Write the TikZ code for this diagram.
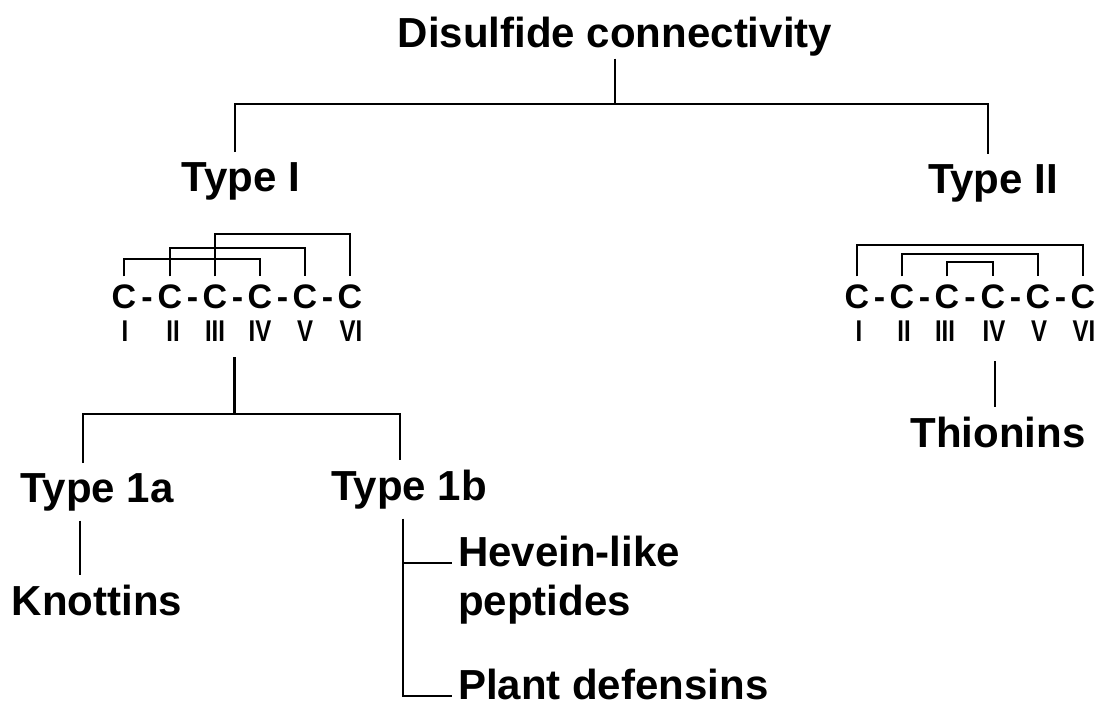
\documentclass[tikz,border=0pt]{standalone}
\usepackage{fontspec}
\setmainfont{Liberation Sans}
\newfontfamily\narrowsans[FakeStretch=0.8]{Liberation Sans}
\usetikzlibrary{calc}

\begin{document}
\begin{tikzpicture}[x=1pt,y=-1pt,
  lbl/.style={font=\fontsize{42}{46}\selectfont\bfseries,inner sep=0pt,outer sep=10pt,anchor=base},
  cys/.style={font=\fontsize{34}{40}\selectfont\bfseries,inner sep=0pt,outer sep=8pt,anchor=base},
  num/.style={font=\narrowsans\fontsize{30}{30}\selectfont\bfseries,inner sep=0pt,anchor=base},
  link/.style={line width=2.4pt}]
  \useasboundingbox (0,0) rectangle (1102,706);
  \node[lbl,outer sep=2pt] (title) at (615,48) {Disulfide connectivity};
  \node[lbl] (t1) at (241,191) {Type I};
  \node[lbl] (t2) at (993,193) {Type II};
  \draw[link] (title.south) -- ++(0,45) coordinate (split0);
  \draw[link] ([xshift=-6pt]t1.north) |- (split0) -| ([xshift=-5pt]t2.north);
  \foreach \x [count=\i] in {124,170,215,260,305,350}
    \node[cys] (a\i) at (\x,308) {C};
  \foreach \x/\r [count=\i] in {125/I,173/II,215/III,260/IV,305/V,351/VI}
    \node[num] (na\i) at (\x,341) {\r};
  \foreach \x [count=\i] in {857,902,947,993,1038,1083}
    \node[cys] (b\i) at (\x,308) {C};
  \foreach \x/\r [count=\i] in {859/I,904/II,945/III,994/IV,1039/V,1084/VI}
    \node[num] (nb\i) at (\x,341) {\r};
  \foreach \i/\j in {1/2,2/3,3/4,4/5,5/6} {
    \node[cys] at ($(a\i.base)!0.5!(a\j.base)$) {-};
    \node[cys] at ($(b\i.base)!0.5!(b\j.base)$) {-};
  }
  \draw[link] (a1.north) -- ++(0,-17) -| (a4.north);
  \draw[link] (a2.north) -- ++(0,-28) -| (a5.north);
  \draw[link] (a3.north) -- ++(0,-42) -| (a6.north);
  \draw[link] (b1.north) -- ++(0,-31) -| (b6.north);
  \draw[link] (b2.north) -- ++(0,-22) -| (b5.north);
  \draw[link] (b3.north) -- ++(0,-14) -| (b4.north);
  \node[lbl] (t1a) at (97,502) {Type 1a};
  \node[lbl] (t1b) at (409,500) {Type 1b};
  \node[lbl] (knot) at (97,615) {Knottins};
  \node[lbl] (thio) at (998,447) {Thionins};
  \node[lbl,anchor=base west,outer sep=6pt] (hev) at (452,566) {Hevein-like};
  \node[lbl,anchor=base west,outer sep=6pt] (pep) at (452,615) {peptides};
  \node[lbl,anchor=base west,outer sep=6pt,text depth=0pt] (pl) at (452,699) {Plant defensins};
  \coordinate (m1) at ($(na3.south)!0.5!(na4.south)+(-3,16)$);
  \draw[link] (m1) -- ++(0,57) coordinate (split1);
  \draw[link] ([xshift=-14pt]t1a.north) |- (split1) -| ([xshift=-9pt]t1b.north);
  \draw[link] ([xshift=-17pt]t1a.south) -- ([xshift=-17pt]knot.north);
  \draw[link] ([xshift=-3pt]thio.north) -- ++(0,-46);
  \draw[link] ([xshift=-6pt]t1b.south) |- ([yshift=3pt]pl.base west);
  \draw[link] ([xshift=-6pt]t1b.south |- hev.base) ++(0,-3) -- ([yshift=3pt]hev.base west);
\end{tikzpicture}
\end{document}
